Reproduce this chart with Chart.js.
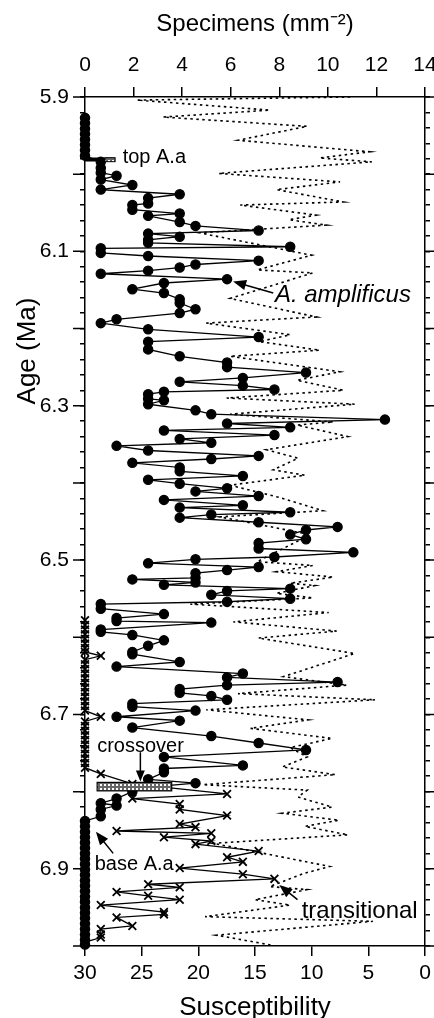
<!DOCTYPE html>
<html>
<head>
<meta charset="utf-8">
<script src="https://cdn.jsdelivr.net/npm/chart.js@4.4.0/dist/chart.umd.min.js"></script>
<style>
html, body { margin: 0; padding: 0; background: #fff; }
</style>
</head>
<body>
<canvas id="ageChart" width="434" height="1018"></canvas>
<script>
// tick labels
const specTicks = [0, 2, 4, 6, 8, 10, 12, 14];
const suscTicks = [30, 25, 20, 15, 10, 5, 0];
const ageLabels = [5.9, 6.1, 6.3, 6.5, 6.7, 6.9];

// A. amplificus (specimens per mm2)
const ampAge = [
    5.927, 5.934, 5.941, 5.948, 5.955, 5.962, 5.969, 5.976, 5.984, 5.992,
    5.998, 6.002, 6.007, 6.014, 6.020, 6.026, 6.031, 6.038, 6.040, 6.046,
    6.051, 6.054, 6.062, 6.067, 6.073, 6.077, 6.081, 6.085, 6.089, 6.094,
    6.096, 6.102, 6.106, 6.112, 6.117, 6.121, 6.125, 6.129, 6.136, 6.141,
    6.149, 6.154, 6.162, 6.167, 6.175, 6.180, 6.188, 6.193, 6.201, 6.211,
    6.217, 6.227, 6.236, 6.244, 6.250, 6.257, 6.264, 6.269, 6.274, 6.279,
    6.282, 6.285, 6.291, 6.293, 6.298, 6.306, 6.311, 6.318, 6.323, 6.328,
    6.332, 6.338, 6.343, 6.348, 6.352, 6.358, 6.365, 6.369, 6.374, 6.380,
    6.385, 6.391, 6.396, 6.401, 6.407, 6.411, 6.417, 6.422, 6.429, 6.432,
    6.438, 6.441, 6.445, 6.451, 6.457, 6.461, 6.467, 6.473, 6.478, 6.485,
    6.490, 6.496, 6.499, 6.504, 6.509, 6.513, 6.517, 6.523, 6.525, 6.529,
    6.532, 6.537, 6.540, 6.545, 6.550, 6.554, 6.557, 6.563, 6.570, 6.575,
    6.579, 6.581, 6.590, 6.593, 6.597, 6.604, 6.611, 6.619, 6.622, 6.632,
    6.638, 6.647, 6.652, 6.658, 6.662, 6.667, 6.672, 6.676, 6.681, 6.686,
    6.690, 6.695, 6.703, 6.708, 6.717, 6.728, 6.737, 6.746, 6.755, 6.766,
    6.770, 6.775, 6.784, 6.789, 6.796, 6.800, 6.809, 6.815, 6.818, 6.823,
    6.832, 6.838, 6.845, 6.852, 6.859, 6.866, 6.873, 6.880, 6.887, 6.894,
    6.901, 6.908, 6.915, 6.922, 6.929, 6.936, 6.943, 6.950, 6.957, 6.964,
    6.971, 6.978, 6.985, 6.992, 6.998
];
const ampCount = [
    0, 0, 0, 0, 0, 0, 0, 0, 0.65, 0.65,
    0.65, 1.3, 0.65, 1.95, 0.65, 3.9, 2.6, 2.6, 1.95, 1.95,
    3.9, 2.6, 3.9, 4.55, 7.15, 2.6, 3.9, 2.6, 2.6, 8.45,
    0.65, 0.65, 2.6, 7.15, 4.55, 3.9, 2.6, 0.65, 5.85, 3.25,
    1.95, 3.25, 3.9, 3.9, 4.55, 3.9, 1.3, 0.65, 2.6, 7.15,
    2.6, 2.6, 3.9, 5.85, 5.85, 9.1, 6.5, 3.9, 6.5, 7.8,
    3.25, 2.6, 2.6, 3.25, 2.6, 4.55, 5.2, 12.35, 5.85, 8.45,
    3.25, 7.8, 3.9, 5.2, 1.3, 2.6, 7.15, 5.2, 1.95, 3.9,
    3.9, 6.5, 2.6, 3.9, 5.85, 4.55, 7.15, 3.25, 6.5, 3.9,
    8.45, 5.2, 3.9, 7.15, 10.4, 9.1, 8.45, 9.1, 7.15, 7.15,
    11.05, 7.8, 4.55, 2.6, 7.15, 5.85, 4.55, 4.55, 1.95, 4.55,
    3.25, 8.45, 5.85, 5.2, 8.45, 5.85, 0.65, 0.65, 3.25, 1.3,
    1.3, 5.2, 0.65, 0.65, 1.95, 3.25, 2.6, 1.95, 1.95, 3.9,
    1.3, 6.5, 5.85, 10.4, 5.85, 3.9, 3.9, 5.2, 5.85, 1.95,
    1.95, 4.55, 1.3, 3.9, 1.95, 5.2, 7.15, 9.1, 3.25, 6.5,
    3.25, 3.25, 2.6, 4.55, 1.95, 1.95, 1.3, 0.65, 1.3, 0.65,
    0.65, 0, 0, 0, 0, 0, 0, 0, 0, 0,
    0, 0, 0, 0, 0, 0, 0, 0, 0, 0,
    0, 0, 0, 0, 0
];

// transitional forms (specimens per mm2)
const transAge = [
    6.578, 6.584, 6.590, 6.596, 6.602, 6.608, 6.614, 6.619, 6.624, 6.629,
    6.635, 6.641, 6.647, 6.653, 6.659, 6.665, 6.671, 6.677, 6.683, 6.689,
    6.695, 6.703, 6.709, 6.715, 6.721, 6.727, 6.733, 6.739, 6.745, 6.751,
    6.757, 6.763, 6.769, 6.777, 6.790, 6.803, 6.809, 6.816, 6.823, 6.831,
    6.842, 6.846, 6.851, 6.854, 6.859, 6.864, 6.868, 6.877, 6.885, 6.891,
    6.899, 6.907, 6.913, 6.920, 6.924, 6.930, 6.935, 6.940, 6.947, 6.956,
    6.959, 6.963, 6.974, 6.978, 6.985, 6.989, 6.995
];
const transCount = [
    0, 0, 0, 0, 0, 0, 0, 0, 0.65, 0,
    0, 0, 0, 0, 0, 0, 0, 0, 0, 0,
    0, 0.65, 0, 0, 0, 0, 0, 0, 0, 0,
    0, 0, 0, 0.65, 1.95, 5.85, 1.95, 3.9, 3.9, 5.85,
    3.9, 4.55, 1.3, 5.2, 3.25, 5.2, 4.55, 7.15, 5.85, 6.5,
    3.9, 6.5, 7.8, 2.6, 3.9, 1.3, 2.6, 3.9, 0.65, 3.25,
    3.25, 1.3, 1.95, 0.65, 0.65, 0.65, 0
];

// magnetic susceptibility (dotted)
const suscAge = [
    5.900, 5.904, 5.917, 5.926, 5.938, 5.956, 5.971, 5.979, 5.984, 5.999,
    6.010, 6.020, 6.036, 6.040, 6.053, 6.059, 6.066, 6.076, 6.105, 6.124,
    6.128, 6.161, 6.185, 6.193, 6.208, 6.217, 6.228, 6.236, 6.256, 6.267,
    6.280, 6.290, 6.298, 6.311, 6.321, 6.325, 6.340, 6.357, 6.368, 6.383,
    6.390, 6.403, 6.419, 6.436, 6.444, 6.467, 6.502, 6.507, 6.515, 6.522,
    6.530, 6.533, 6.543, 6.549, 6.557, 6.568, 6.580, 6.592, 6.601, 6.621,
    6.651, 6.662, 6.673, 6.681, 6.694, 6.707, 6.718, 6.731, 6.743, 6.755,
    6.768, 6.778, 6.791, 6.798, 6.807, 6.820, 6.828, 6.837, 6.845, 6.856,
    6.867, 6.897, 6.906, 6.923, 6.927, 6.940, 6.947, 6.962, 6.968, 6.986,
    6.999
];
const suscValue = [
    6.6, 25.4, 13.7, 23.1, 10.4, 16.5, 4.9, 9.3, 4.7, 18.2,
    7.5, 13.1, 7.2, 16.3, 9.6, 12.0, 8.7, 19.9, 10.0, 14.8,
    9.9, 17.2, 9.6, 19.3, 11.9, 14.6, 9.3, 17.2, 7.5, 11.3,
    7.2, 17.5, 6.2, 17.2, 8.1, 11.3, 6.8, 14.0, 11.2, 13.4,
    10.6, 17.2, 12.8, 9.0, 18.1, 10.1, 14.8, 9.9, 13.1, 8.1,
    11.9, 9.7, 13.1, 9.9, 20.7, 8.5, 16.9, 7.8, 14.7, 6.2,
    12.5, 6.9, 16.5, 4.4, 19.3, 10.3, 15.4, 8.2, 11.9, 10.4,
    12.6, 7.9, 19.6, 10.4, 11.2, 8.2, 12.6, 7.6, 10.6, 6.8,
    18.7, 8.4, 10.7, 13.7, 10.4, 15.0, 11.9, 19.4, 4.6, 18.4,
    13.5
];

const FONT = "'Liberation Sans', Arial, Helvetica, sans-serif";

// age ticks every 0.02 Ma
const ageMinor = [];
for (let i = 0; i <= 55; i++) ageMinor.push(Math.round((5.9 + i * 0.02) * 100) / 100);

function stippled(ctx) {
    const c = document.createElement('canvas');
    c.width = 4; c.height = 4;
    const g = c.getContext('2d');
    g.fillStyle = '#666';
    g.fillRect(0, 0, 4, 4);
    g.fillStyle = '#fff';
    g.fillRect(0, 0, 2, 2);
    return ctx.createPattern(c, 'repeat');
}

function arrow(ctx, x1, y1, x2, y2, head) {
    const a = Math.atan2(y2 - y1, x2 - x1);
    ctx.beginPath();
    ctx.moveTo(x1, y1);
    ctx.lineTo(x2 - Math.cos(a) * head * 0.7, y2 - Math.sin(a) * head * 0.7);
    ctx.stroke();
    ctx.beginPath();
    ctx.moveTo(x2, y2);
    ctx.lineTo(x2 - head * Math.cos(a - 0.38), y2 - head * Math.sin(a - 0.38));
    ctx.lineTo(x2 - head * Math.cos(a + 0.38), y2 - head * Math.sin(a + 0.38));
    ctx.closePath();
    ctx.fill();
}

const extras = {
    id: 'extras',
    afterDatasetsDraw(chart) {
        const { ctx, chartArea, scales: { x, y } } = chart;
        const px = v => x.getPixelForValue(v);
        const py = v => y.getPixelForValue(v);
        ctx.save();
        ctx.strokeStyle = '#000';
        ctx.fillStyle = '#000';

        // longer ticks every 0.1 Ma
        ctx.lineWidth = 1.5;
        ageMinor.filter(v => Math.abs(v * 10 - Math.round(v * 10)) < 1e-6).forEach(v => {
            const yy = py(v);
            ctx.beginPath();
            ctx.moveTo(chartArea.left - 12, yy);
            ctx.lineTo(chartArea.left, yy);
            ctx.moveTo(chartArea.right, yy);
            ctx.lineTo(chartArea.right + 9, yy);
            ctx.stroke();
        });

        // top A.a marker
        ctx.lineWidth = 4;
        ctx.beginPath();
        ctx.moveTo(px(0), py(5.981));
        ctx.lineTo(px(0.82), py(5.981));
        ctx.stroke();
        ctx.fillStyle = stippled(ctx);
        ctx.fillRect(px(0.82), py(5.9786), px(1.24) - px(0.82), py(5.9838) - py(5.9786));
        ctx.lineWidth = 1;
        ctx.strokeRect(px(0.82), py(5.9786), px(1.24) - px(0.82), py(5.9838) - py(5.9786));

        // crossover box
        ctx.fillStyle = stippled(ctx);
        ctx.fillRect(px(0.5), py(6.788), px(3.57) - px(0.5), py(6.799) - py(6.788));
        ctx.lineWidth = 1.2;
        ctx.strokeRect(px(0.5), py(6.788), px(3.57) - px(0.5), py(6.799) - py(6.788));

        ctx.fillStyle = '#000';
        ctx.lineWidth = 1.5;
        arrow(ctx, px(2.28), py(6.749), px(2.28), py(6.787), 12);
        arrow(ctx, px(1.16), py(6.880), px(0.45), py(6.852), 14);
        arrow(ctx, px(7.75), py(6.154), px(6.1), py(6.139), 14);
        arrow(ctx, px(8.75), py(6.940), px(8.0), py(6.921), 14);

        // labels
        ctx.textBaseline = 'middle';
        ctx.textAlign = 'left';
        ctx.font = '20px ' + FONT;
        ctx.fillText('top A.a', px(1.55), py(5.979));
        ctx.fillText('crossover', px(0.5), py(6.741));
        ctx.fillText('base A.a', px(0.4), py(6.895));
        ctx.font = '24px ' + FONT;
        ctx.fillText('transitional', px(8.92), py(6.955));
        ctx.font = 'italic 24px ' + FONT;
        ctx.fillText('A. amplificus', px(7.82), py(6.157));

        // age axis title
        ctx.font = '26px ' + FONT;
        ctx.textAlign = 'center';
        ctx.translate(28, 351);
        ctx.rotate(-Math.PI / 2);
        ctx.fillText('Age (Ma)', 0, 0);
        ctx.restore();
    }
};

const axisGrid = len => ({
    drawOnChartArea: false,
    drawTicks: true,
    tickLength: len,
    color: '#000',
    lineWidth: 1.5
});
const axisBorder = { display: true, color: '#000', width: 1.5 };

// fixed box sizes so the plot area sits at 85..425 x 97..946
const fixHeight = h => s => { s.height = h; s.paddingLeft = 0; s.paddingRight = 0; };
const fixWidth = w => s => { s.width = w; s.paddingTop = 0; s.paddingBottom = 0; };

const ctx = document.getElementById('ageChart').getContext('2d');

const ageChart = new Chart(ctx, {
    type: 'scatter',
    data: {
        datasets: [
            {
                label: 'A. amplificus',
                data: ampAge.map((a, i) => ({ x: ampCount[i], y: a })),
                xAxisID: 'x',
                yAxisID: 'y',
                showLine: true,
                clip: false,
                borderColor: '#000',
                backgroundColor: '#000',
                borderWidth: 1.3,
                pointStyle: 'circle',
                pointRadius: 4.6,
                order: 1
            },
            {
                label: 'transitional',
                data: transAge.map((a, i) => ({ x: transCount[i], y: a })),
                xAxisID: 'x',
                yAxisID: 'y',
                showLine: true,
                clip: false,
                borderColor: '#000',
                backgroundColor: '#000',
                borderWidth: 1.3,
                pointStyle: 'crossRot',
                pointRadius: 5.5,
                pointBorderWidth: 1.8,
                order: 2
            },
            {
                label: 'Susceptibility',
                data: suscAge.map((a, i) => ({ x: suscValue[i], y: a })),
                xAxisID: 'x2',
                yAxisID: 'y',
                showLine: true,
                borderColor: '#000',
                borderWidth: 1.6,
                borderDash: [2.5, 3.5],
                pointRadius: 0,
                order: 3
            }
        ]
    },
    options: {
        responsive: false,
        animation: false,
        layout: { padding: 0 },
        plugins: {
            legend: { display: false },
            tooltip: { enabled: false }
        },
        scales: {
            x: {
                type: 'linear',
                position: 'top',
                min: 0,
                max: 14,
                afterBuildTicks: s => { s.ticks = specTicks.map(v => ({ value: v })); },
                afterFit: fixHeight(97),
                ticks: { autoSkip: false, maxRotation: 0, padding: 9, color: '#000', font: { family: FONT, size: 21 } },
                grid: axisGrid(10),
                border: axisBorder,
                title: {
                    display: true,
                    text: 'Specimens (mm⁻²)',
                    color: '#000',
                    font: { family: FONT, size: 24 },
                    padding: { top: 10, bottom: 0 }
                }
            },
            x2: {
                type: 'linear',
                position: 'bottom',
                min: 0,
                max: 30,
                reverse: true,
                afterBuildTicks: s => { s.ticks = suscTicks.map(v => ({ value: v })); },
                afterFit: fixHeight(72),
                ticks: { autoSkip: false, maxRotation: 0, padding: 5, color: '#000', font: { family: FONT, size: 21 } },
                grid: axisGrid(10),
                border: axisBorder,
                title: {
                    display: true,
                    text: 'Susceptibility',
                    color: '#000',
                    font: { family: FONT, size: 26 },
                    padding: { top: 0, bottom: -5 }
                }
            },
            y: {
                type: 'linear',
                position: 'left',
                min: 5.9,
                max: 7.0,
                reverse: true,
                afterBuildTicks: s => { s.ticks = ageMinor.map(v => ({ value: v })); },
                afterFit: fixWidth(85),
                ticks: {
                    autoSkip: false,
                    padding: 11,
                    color: '#000',
                    font: { family: FONT, size: 21 },
                    callback: v => ageLabels.some(a => Math.abs(a - v) < 1e-6) ? v.toFixed(1) : ''
                },
                grid: axisGrid(5),
                border: axisBorder
            },
            y2: {
                type: 'linear',
                position: 'right',
                min: 5.9,
                max: 7.0,
                reverse: true,
                afterBuildTicks: s => { s.ticks = ageMinor.map(v => ({ value: v })); },
                afterFit: fixWidth(9),
                ticks: { display: false, autoSkip: false },
                grid: axisGrid(5),
                border: axisBorder
            }
        }
    },
    plugins: [extras]
});
</script>
</body>
</html>
